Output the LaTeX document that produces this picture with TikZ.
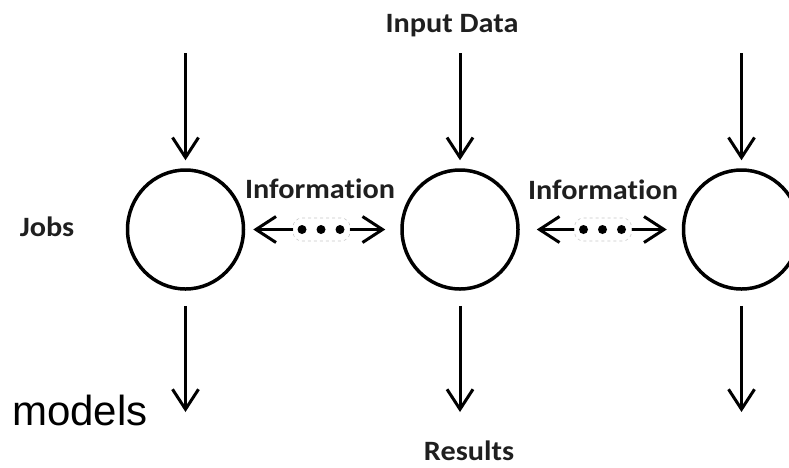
\documentclass[tikz,border=0pt]{standalone}
\usepackage{fontspec}
\setmainfont{Carlito}[FakeStretch=1.08, RawFeature=-liga]
\newfontfamily\argfont{Liberation Sans}
\usetikzlibrary{arrows.meta,shapes.geometric}
\begin{document}
\begin{tikzpicture}[x=1pt,y=-1pt,
  proc/.style={ellipse, draw=black, line width=3.5pt, minimum width=116pt, minimum height=119pt, inner sep=0pt},
  flow/.style={line width=3pt, -{Straight Barb[length=20pt,width=26pt,line width=3pt]}},
  lbl/.style={font=\fontsize{28}{32}\selectfont\bfseries, text=black!88, anchor=base, inner sep=0pt},
  dotbox/.style={draw=black!22, dashed, line width=0.6pt, rounded corners=9pt, minimum width=57pt, minimum height=23pt, inner sep=0pt},
  dotc/.style={circle, fill=black, minimum size=9pt, inner sep=0pt},
]
\useasboundingbox (0,0) rectangle (789,467);

% processors
\node[proc] (c1) at (185.5,229.5) {};
\node[proc] (c2) at (460,229.5) {};
\node[proc] (c3) at (741.5,229.5) {};

% input / output arrows
\coordinate (t1) at (185.5,53);
\coordinate (t2) at (460,53);
\coordinate (t3) at (741.5,53);
\coordinate (b1) at (185.5,412);
\coordinate (b2) at (460,412);
\coordinate (b3) at (741.5,412);
\foreach \i in {1,2,3}{
  \draw[flow, shorten >=8pt] (t\i) -- (c\i);
  \draw[flow, shorten <=15pt] (c\i) -- (b\i);
}

% information exchange
\node[dotbox] (d1) at (321.5,229.5) {};
\node[dotc] (d1a) at (302,229.5) {};
\node[dotc] (d1b) at (321,229.5) {};
\node[dotc] (d1c) at (340,229.5) {};
\draw[flow, shorten >=8pt] (d1) -- (c1);
\draw[flow, shorten >=15pt] (d1) -- (c2);

\node[dotbox] (d2) at (603,229.5) {};
\node[dotc] (d2a) at (583.5,229.5) {};
\node[dotc] (d2b) at (602.5,229.5) {};
\node[dotc] (d2c) at (621.5,229.5) {};
\draw[flow, shorten >=17pt] (d2) -- (c2);
\draw[flow, shorten >=15pt] (d2) -- (c3);

% labels
\node[lbl] (inp) at (452,32) {Input Data};
\node[lbl] (inf1) at (320,198) {Information};
\node[lbl] (inf2) at (603,199) {Information};
\node[lbl] (jobs) at (47,236) {Jobs};
\node[lbl] (res) at (469,460) {Results};
\node[anchor=base west, inner sep=0pt, font=\argfont\fontsize{42}{48}\selectfont] (mod) at (12,425) {models};
\end{tikzpicture}
\end{document}
